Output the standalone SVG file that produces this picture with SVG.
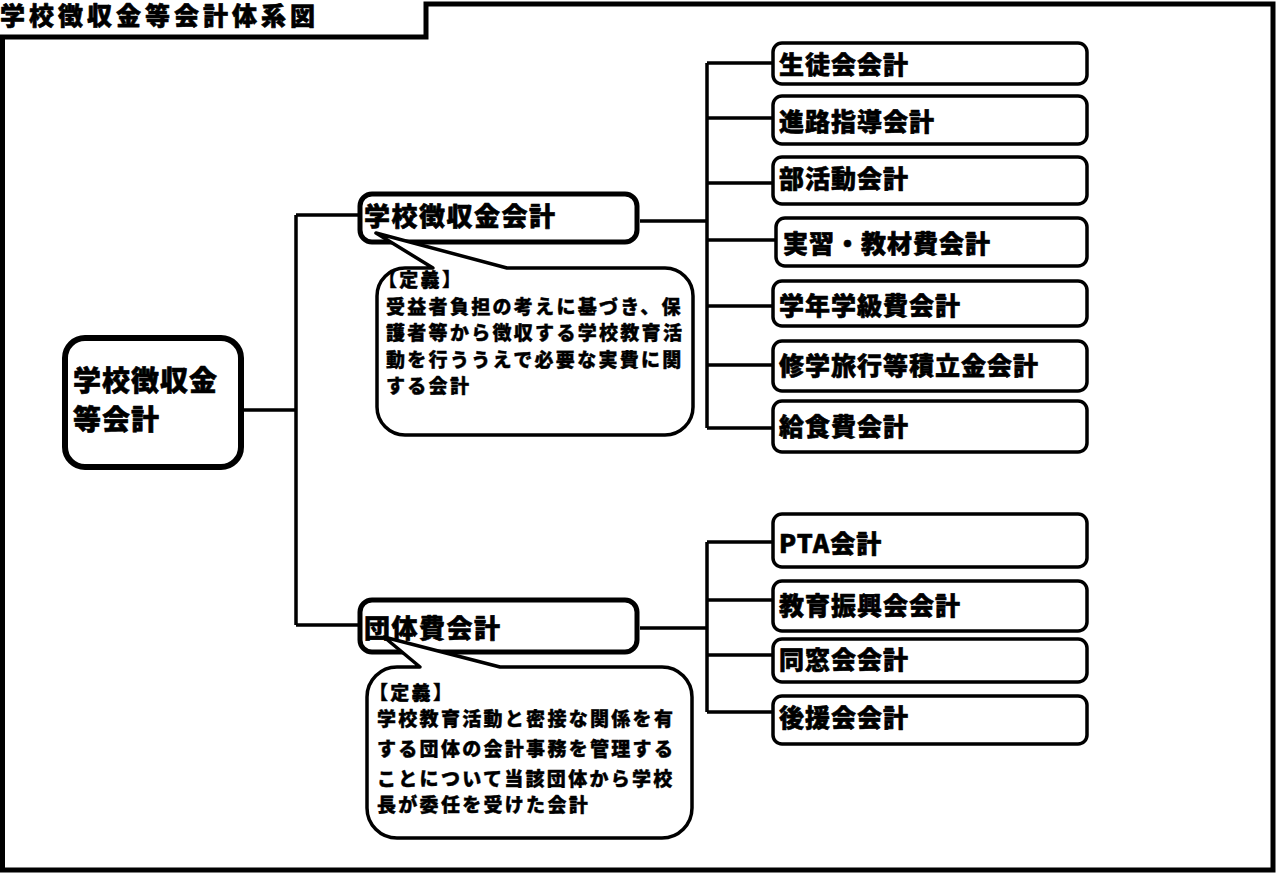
<svg xmlns="http://www.w3.org/2000/svg" width="1278" height="873" viewBox="0 0 1278 873">
<style>
text{font-family:"Noto Sans CJK JP","Noto Sans",sans-serif;font-weight:900;fill:#000;stroke:#000;stroke-width:0.6;stroke-linejoin:round}
.frame{fill:none;stroke:#000;stroke-width:5}
.con{fill:none;stroke:#000;stroke-width:3.5}
.main{fill:#fff;stroke:#000;stroke-width:6}
.mid{fill:#fff;stroke:#000;stroke-width:5}
.leaf{fill:#fff;stroke:#000;stroke-width:3.5}
.bubble{fill:#fff;stroke:#000;stroke-width:3.5;stroke-linejoin:round}
.t-title{font-size:25px;letter-spacing:4px}
.t-main{font-size:28px;letter-spacing:1px}
.t-mid{font-size:26px;letter-spacing:1.5px}
.t-leaf{font-size:25px;letter-spacing:1px}
.t-note{font-size:19px;letter-spacing:2.3px;stroke-width:0.4}
</style>
<rect width="1278" height="873" fill="#fff"/>
<g id="frame">
<path class="frame" d="M2.5,870 V37 H426 V4 H1273 V870 Z"/>
<text class="t-title" x="0" y="25">学校徴収金等会計体系図</text>
</g>
<g id="connectors">
<path class="con" d="M244,410 H296 M296,215 V625 M296,215 H360 M296,625 H360"/>
<path class="con" d="M640,221 H707 M707,63 V428 M707,63 H772 M707,118 H772 M707,183 H772 M707,240 H775 M707,306 H772 M707,365 H772 M707,428 H772"/>
<path class="con" d="M640,628 H707 M707,542 V712 M707,542 H772 M707,600 H772 M707,655 H772 M707,712 H772"/>
</g>
<g id="n-root">
<rect class="main" x="65" y="338" width="176" height="129" rx="20"/>
<text class="t-main" x="73" y="391">学校徴収金</text>
<text class="t-main" x="73" y="430">等会計</text>
</g>
<g id="n-choushu">
<rect class="mid" x="360" y="194" width="277" height="48" rx="12"/>
<text class="t-mid" x="364" y="226">学校徴収金会計</text>
</g>
<g id="n-choushu-note">
<path class="bubble" d="M405,268 H433 L376,233 L507,268 H665 A28,28 0 0 1 693,296 V407 A28,28 0 0 1 665,435 H405 A28,28 0 0 1 377,407 V296 A28,28 0 0 1 405,268 Z"/>
<text class="t-note" x="378" y="287">【定義】</text>
<text class="t-note" x="386" y="314">受益者負担の考えに基づき、保</text>
<text class="t-note" x="386" y="340">護者等から徴収する学校教育活</text>
<text class="t-note" x="386" y="367">動を行ううえで必要な実費に関</text>
<text class="t-note" x="386" y="393">する会計</text>
</g>
<g id="n-dantai">
<rect class="mid" x="360" y="600" width="277" height="52" rx="12"/>
<text class="t-mid" x="364" y="638">団体費会計</text>
</g>
<g id="n-dantai-note">
<path class="bubble" d="M397,667 H420 L384,637 L500,667 H662 A30,30 0 0 1 692,697 V808 A30,30 0 0 1 662,838 H397 A30,30 0 0 1 367,808 V697 A30,30 0 0 1 397,667 Z"/>
<text class="t-note" x="369" y="700">【定義】</text>
<text class="t-note" x="377" y="726">学校教育活動と密接な関係を有</text>
<text class="t-note" x="377" y="756">する団体の会計事務を管理する</text>
<text class="t-note" x="377" y="786">ことについて当該団体から学校</text>
<text class="t-note" x="377" y="812">長が委任を受けた会計</text>
</g>
<g id="n-seito"><rect class="leaf" x="773" y="43" width="314" height="41" rx="9"/><text class="t-leaf" x="779" y="74">生徒会会計</text></g>
<g id="n-shinro"><rect class="leaf" x="773" y="96" width="314" height="48" rx="9"/><text class="t-leaf" x="779" y="131">進路指導会計</text></g>
<g id="n-bukatsu"><rect class="leaf" x="773" y="157" width="314" height="47" rx="9"/><text class="t-leaf" x="779" y="188">部活動会計</text></g>
<g id="n-jisshu"><rect class="leaf" x="776" y="218" width="311" height="48" rx="9"/><text class="t-leaf" x="783" y="253">実習・教材費会計</text></g>
<g id="n-gakunen"><rect class="leaf" x="773" y="281" width="314" height="45" rx="9"/><text class="t-leaf" x="779" y="315">学年学級費会計</text></g>
<g id="n-shugaku"><rect class="leaf" x="773" y="341" width="314" height="50" rx="9"/><text class="t-leaf" x="779" y="375">修学旅行等積立金会計</text></g>
<g id="n-kyushoku"><rect class="leaf" x="773" y="401" width="314" height="51" rx="9"/><text class="t-leaf" x="779" y="436">給食費会計</text></g>
<g id="n-pta"><rect class="leaf" x="773" y="514" width="314" height="53" rx="9"/><text class="t-leaf" x="779" y="553">PTA会計</text></g>
<g id="n-shinko"><rect class="leaf" x="773" y="581" width="314" height="50" rx="9"/><text class="t-leaf" x="779" y="615">教育振興会会計</text></g>
<g id="n-doso"><rect class="leaf" x="773" y="639" width="314" height="43" rx="9"/><text class="t-leaf" x="779" y="669">同窓会会計</text></g>
<g id="n-koen"><rect class="leaf" x="773" y="696" width="314" height="48" rx="9"/><text class="t-leaf" x="779" y="727">後援会会計</text></g>
</svg>
